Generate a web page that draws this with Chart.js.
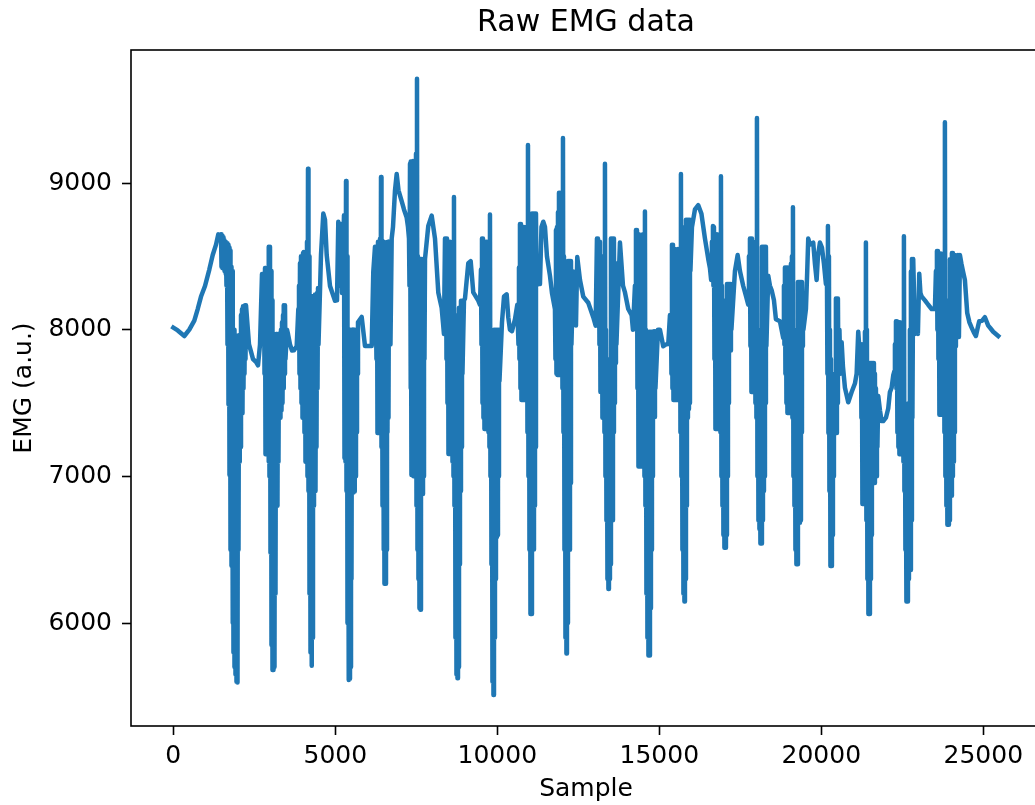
<!DOCTYPE html>
<html><head><meta charset="utf-8">
<script src="https://cdn.jsdelivr.net/npm/chart.js@4.4.1/dist/chart.umd.min.js"></script>
<style>
html,body{margin:0;padding:0;overflow:hidden;background:#fff;width:1035px;height:805px}
#wrap{position:absolute;left:0;top:0;width:1080px;height:805px}
</style>
</head><body><div id="wrap"><canvas id="c" width="1080" height="805"></canvas></div>
<script>
const chartTitle = 'Raw EMG data';
const xAxisTitle = 'Sample';
const yAxisTitle = 'EMG (a.u.)';
const xTickValues = [0, 5000, 10000, 15000, 20000, 25000];
const xTickLabels = ['0', '5000', '10000', '15000', '20000', '25000'];
const yTickValues = [6000, 7000, 8000, 9000];
const yTickLabels = ['6000', '7000', '8000', '9000'];

// sample index of each point (one line per segment)
const sampleIndex = [
0,136,340,494,648,753,855,978,1111,1216,1318,1389,1450,
1472,1487,1503,1518,1534,1549,1565,1580,1596,1611,1626,1641,1657,1672,1688,1703,1719,1734,1750,1765,1781,1796,1812,1827,1842,1857,1873,1888,1904,1919,1935,1950,1966,1981,1997,2012,2028,2043,2058,2073,2089,2104,2120,2135,2151,2166,2182,2197,2213,2228,
2244,2336,2398,2460,2552,2614,2676,2737,
2799,2814,2830,2845,2861,2876,2892,2907,2923,2938,2953,2968,2984,2999,3015,3030,3046,3061,3077,3092,3108,3123,3139,3154,3170,3185,3200,3215,3231,3246,3262,3277,3293,3308,3324,3339,3355,3370,3386,3401,3416,3431,3447,3462,
3509,3540,3601,3663,3725,3808,3858,
3879,3894,3910,3925,3941,3956,3972,3987,4003,4018,4033,4048,4064,4079,4095,4110,4126,4141,4157,4172,4188,4203,4219,4234,4250,4265,4280,4295,4311,4326,4342,4357,4373,4388,4404,4419,4435,4450,4466,4481,
4558,4629,4681,4734,4836,4990,5052,5092,5129,5175,5206,
5268,5283,5299,5314,5330,5345,5361,5376,5392,5407,5422,5437,5453,5468,5484,5499,5515,5530,5546,5561,5577,5592,5607,5622,5638,5653,5669,5684,
5700,5814,5916,6009,6123,6172,6225,
6255,6270,6286,6301,6317,6332,6348,6363,6379,6394,6410,6425,6441,6456,6472,6487,6502,6517,6533,6548,6564,6579,6595,6610,6626,6641,6657,6672,6687,6702,
6740,6780,6842,6894,6950,7048,7119,7203,7243,
7274,7289,7305,7320,7335,7350,7366,7381,7397,7412,7428,7443,7459,7474,7490,7505,7521,7536,7551,7566,7582,7597,7613,7628,7644,7659,7675,7690,7706,7721,7737,7752,
7768,7869,7974,8076,8178,8230,8282,8322,8353,
8385,8400,8416,8431,8446,8461,8477,8492,8508,8523,8539,8554,8570,8585,8601,8616,8632,8647,8662,8677,8693,8708,8724,8739,8755,8770,8786,8801,8817,8832,8847,8862,8878,8893,8909,8924,
8971,9002,9104,9178,9258,9412,9465,
9496,9511,9527,9542,9557,9572,9588,9603,9619,9634,9650,9665,9681,9696,9712,9727,9742,9757,9773,9788,9804,9819,9835,9850,9866,9881,9897,9912,9927,9942,9958,9973,9989,10004,10020,10035,10051,10066,
10144,10206,10289,10338,10390,10452,10545,10616,
10638,10653,10668,10683,10699,10714,10730,10745,10761,10776,10792,10807,10823,10838,10853,10868,10884,10899,10915,10930,10946,10961,10977,10992,11008,11023,11038,11053,11069,11084,11100,11115,11131,11146,11162,11177,11193,11208,
11255,11316,11363,11418,11471,11532,11625,11687,
11779,11794,11810,11825,11841,11856,11872,11887,11903,11918,11934,11949,11964,11979,11995,12010,12026,12041,12057,12072,12088,12103,12118,12133,12149,12164,12180,12195,12211,12226,12242,12257,12273,12288,
12344,12427,12467,12551,12652,12807,12961,13035,
13075,13090,13106,13121,13137,13152,13168,13183,13199,13214,13229,13244,13260,13275,13291,13306,13322,13337,13353,13368,13384,13399,13414,13429,13445,13460,13476,13491,13507,13522,13538,13553,13569,13584,13599,13614,13630,13645,13661,13676,
13785,13831,13878,13940,14041,14146,14186,
14248,14263,14279,14294,14310,14325,14341,14356,14371,14386,14402,14417,14433,14448,14464,14479,14495,14510,14526,14541,14556,14571,14587,14602,14618,14633,14649,14664,14680,14695,14711,14726,14741,14756,14772,14787,14803,14818,14834,14849,14865,14880,
14958,15019,15121,15205,15276,15328,
15359,15374,15390,15405,15421,15436,15452,15467,15482,15497,15513,15528,15544,15559,15575,15590,15606,15621,15637,15652,15667,15682,15698,15713,15729,15744,15760,15775,15791,15806,15822,15837,15852,15867,15883,15898,15914,15929,15945,15960,
16007,16100,16202,16300,16408,16510,16562,16600,
16624,16639,16655,16670,16686,16701,16717,16732,16748,16763,16778,16793,16809,16824,16840,16855,16871,16886,16902,16917,16933,16948,16963,16978,16994,17009,17025,17040,17056,17071,17087,17102,17118,17133,17149,17164,17179,17194,17210,17225,
17334,17417,17488,17590,17674,17745,
17766,17781,17797,17812,17828,17843,17859,17874,17889,17904,17920,17935,17951,17966,17982,17997,18013,18028,18044,18059,18075,18090,18105,18120,18136,18151,18167,18182,18198,18213,18229,18244,18260,18275,18290,18305,
18361,18414,18467,18538,18599,18723,18825,
18846,18861,18877,18892,18908,18923,18939,18954,18970,18985,19001,19016,19031,19046,19062,19077,19093,19108,19124,19139,19155,19170,19186,19201,19216,19231,19247,19262,19278,19293,19309,19324,19340,19355,19371,19386,19402,19417,19432,19447,
19525,19565,19596,19648,19750,19803,19855,19895,19957,20019,20081,20142,
20173,20188,20204,20219,20235,20250,20266,20281,20296,20311,20327,20342,20358,20373,20389,20404,20420,20435,20450,20465,20481,20496,20512,20527,
20559,20590,20627,20667,20729,20831,20936,21037,21090,21139,
21192,21207,21222,21237,21253,21268,21284,21299,21315,21330,21346,21361,21376,21391,21407,21422,21438,21453,21469,21484,21500,21515,21531,21546,21561,21576,21592,21607,21623,21638,21654,21669,21685,21700,21716,21731,
21757,21809,21861,21911,21994,22065,22117,22170,22219,22256,
22272,22287,22303,22318,22333,22348,22364,22379,22395,22410,22426,22441,22457,22472,22488,22503,22519,22534,22549,22564,22580,22595,22611,22626,22642,22657,22673,22688,22704,22719,22734,22749,22765,22780,22796,22811,
22836,22889,22951,22981,23022,23059,23096,23198,23299,23404,23506,
23537,23552,23568,23583,23599,23614,23629,23644,23660,23675,23691,23706,23722,23737,23753,23768,23784,23799,23814,23829,23845,23860,23876,23891,23907,23922,23938,23953,23969,23984,23999,24014,24030,24045,24061,24076,24092,24107,24123,24138,24154,24169,
24216,24247,24278,24324,24370,24431,24503,24571,24639,24710,24771,24833,24873,24957,25049,25151,25219,25305,25460
];

// EMG value of each point (same line layout as sampleIndex)
const emgValue = [
8014,7995,7957,8000,8062,8141,8226,8298,8410,8509,8580,8650,8610,
8650,8430,8640,8420,8630,8420,8610,8400,8600,8380,8600,8300,8590,7900,8580,7490,8560,7010,8540,6500,8430,6390,8400,6000,8200,5800,8000,5700,7900,5650,7700,5600,7950,5595,7960,6500,7960,7100,7950,7200,8100,7450,8140,7430,8160,7600,8100,7700,8166,7800,
8166,7900,7850,7800,7780,7757,7900,8380,
8380,7700,8420,7150,8400,7150,8380,7150,8420,7100,8566,7000,8566,6480,8400,5850,8200,5680,7950,5680,7960,5700,7960,6200,7970,6880,7970,6800,7970,7100,7950,7400,7950,7400,8000,7450,8050,7500,8100,7600,8166,7700,8166,7800,
8000,7970,7900,7858,7860,7887,8141,
8300,7700,8453,7600,8500,7500,8500,7400,8523,7400,8530,7300,8530,7100,8500,7100,8600,7000,9098,6900,8500,6200,7800,5800,7500,5708,7900,5900,8230,6800,8230,6900,8240,6900,8240,7200,8250,7600,8284,7900,
8509,8792,8750,8509,8298,8198,8200,8736,8300,8720,8250,
8780,7125,8700,7100,9014,6900,8500,6000,8000,5612,8000,5620,8000,5700,8000,6300,8000,6900,8000,6890,8000,6897,7990,7000,7980,7300,7971,7700,
8050,8087,7889,7889,7889,8396,8566,
8566,7800,8550,7296,8600,7296,8600,7296,8620,7300,9041,7200,8600,6800,8500,6500,8600,6268,8594,6268,8594,6500,8594,7300,8600,7400,8600,8200,8600,7900,
8622,8700,8950,9062,8950,8877,8820,8764,8700,
8622,8300,9132,7600,9146,7009,9146,7009,9150,7000,9150,7000,9100,7000,9200,6800,9711,6500,8500,6300,8000,6100,7800,6090,8482,6880,8482,6880,8450,7000,8482,7800,
8482,8707,8778,8622,8254,8200,8150,8050,7971,
8622,7971,8622,7800,8622,7500,8594,7153,8600,7153,8600,7153,8550,7153,8550,7100,8600,7000,8905,6800,8000,5900,7800,5650,7500,5623,8100,5700,8150,6400,8150,6900,8198,7200,8198,7700,
8200,8212,8453,8467,8254,8198,8170,
8410,7900,8622,7500,8622,7400,8600,7323,8550,7323,8600,7323,8600,7323,8550,7300,8500,7200,8786,7000,8000,6400,7500,5600,7500,5510,8000,5900,8000,6300,8000,6586,8000,6600,8000,7000,8000,7650,
8050,8226,8241,8085,8000,7990,8071,8170,
8170,7900,8424,7800,8721,7600,8721,7520,8700,7520,8700,7520,8700,7520,8680,7520,8700,7520,8700,7300,9259,7000,8700,6500,8000,6062,8000,6062,8792,6501,8792,6501,8792,6800,8792,7200,8792,8300,
8400,8311,8700,8736,8700,8500,8368,8250,
8141,7800,8680,7700,8700,7691,8800,7691,8933,7691,8933,7691,8900,7691,8900,7600,9307,7300,8500,6500,8000,5900,8000,5793,8460,6000,8468,6955,8468,6500,8468,6955,8468,7900,
8396,8028,8496,8339,8226,8184,8085,8028,
8622,8028,8622,8028,8600,7900,8600,7575,8500,7575,8500,7400,8450,7400,8500,7300,9132,7000,8000,6700,7500,6300,7000,6232,7500,6300,7800,6400,8622,6730,8622,6700,8622,7300,8622,7500,8453,7773,8453,7900,
8594,8450,8300,8254,8141,8099,8000,
8300,8014,8680,8000,8680,7600,8650,7067,8650,7067,8600,7067,8600,7067,8600,7067,8650,7067,8650,7000,8806,6800,8000,6200,7800,5900,7800,5779,7986,5779,7986,6100,7986,6500,7986,7000,7986,7404,7990,7404,7990,7600,
8000,8000,7887,7900,7902,8100,
8100,7700,8580,7600,8580,7520,8550,7520,8550,7520,8500,7520,8500,7520,8550,7520,8550,7520,8550,7300,9062,7000,8000,6500,7800,6200,7800,6147,8700,6300,8749,6800,8749,7400,8749,7460,8749,7500,8749,8400,
8700,8820,8849,8790,8622,8482,8420,8339,
8600,8339,8707,8300,8700,7800,8650,7323,8650,7323,8650,7323,8600,7323,8600,7323,8650,7300,9047,7000,8300,6800,8000,6600,7800,6514,7800,6514,8200,6600,8311,7000,8311,7500,8311,7858,8311,7858,8311,8000,
8400,8509,8400,8298,8230,8170,
8500,8170,8622,7889,8622,7575,8622,7575,8600,7575,8550,7575,8500,7500,8500,7400,9443,7000,8000,6700,7400,6641,7400,6543,7400,6543,8566,6700,8566,6900,8566,7000,8566,7500,8566,7889,
8368,8300,8269,8200,8071,8057,7943,
8300,7900,8424,7700,8424,7500,8424,7432,8424,7432,8424,7432,8400,7432,8450,7432,8500,7400,8835,7000,8000,6800,7500,6500,7500,6401,7500,6401,8325,6684,8325,6684,8325,6700,8325,7300,8325,7889,8200,8000,
8141,8400,8622,8580,8594,8450,8339,8500,8594,8560,8450,8311,
8400,7700,8707,7296,8500,6900,8000,6389,7800,6389,7500,6600,7500,7000,7500,7296,7700,7296,8212,7296,8212,7500,8212,7700,
8000,7700,7915,7750,7604,7505,7575,7633,7700,7986,
7820,7700,7900,7400,7900,6812,7800,6812,7800,6812,7986,6812,8594,6700,8000,6300,7773,6062,7773,6062,7773,6300,7773,6600,7773,6955,7773,6955,7773,6955,7700,7000,7600,7000,7548,7200,
7548,7450,7377,7377,7400,7463,7575,7604,7688,7718,
7900,7718,8057,7600,8057,7300,8050,7200,8050,7151,8050,7151,7900,7151,7900,7151,7900,7100,8637,6900,7500,6500,7000,6147,7000,6147,7000,6300,7500,6362,8000,6362,8396,6700,8482,7400,
8482,7971,8100,7971,8382,8250,8226,8200,8170,8141,8141,
8400,8141,8537,8000,8537,7800,8500,7420,8520,7420,8520,7420,8500,7420,8450,7420,8450,7300,9415,7000,8000,6800,7600,6670,7600,6670,8200,6700,8480,6868,8480,6868,8523,7000,8523,7100,8509,7300,8509,7887,8482,8000,
8509,7950,8509,8450,8400,8339,8114,8050,8014,7980,7957,8020,8057,8060,8085,8028,8010,7986,7957
];

const xRange = [-1306, 26780];
const yRange = [5298, 9907];

const n = Math.min(sampleIndex.length, emgValue.length);
const points = [];
for (let i = 0; i < n; i++) points.push({x: sampleIndex[i], y: emgValue[i]});

const FONT = 'DejaVu Sans';

const framePlugin = {
  id: 'frame',
  afterDatasetsDraw(chart) {
    const {ctx, chartArea: a} = chart;
    ctx.save();
    ctx.strokeStyle = '#000';
    ctx.lineWidth = 1.6;
    ctx.strokeRect(a.left, a.top, a.right - a.left, a.bottom - a.top);
    ctx.restore();
  }
};

new Chart(document.getElementById('c'), {
  type: 'line',
  data: {
    datasets: [{
      data: points,
      borderColor: '#1f77b4',
      borderWidth: 4.5,
      pointRadius: 0,
      pointHoverRadius: 0,
      tension: 0,
      fill: false,
      borderJoinStyle: 'round',
      borderCapStyle: 'square'
    }]
  },
  options: {
    responsive: false,
    animation: false,
    devicePixelRatio: 1,
    events: [],
    layout: {padding: {left: 0, right: 39, top: 0, bottom: 0}, autoPadding: false},
    plugins: {
      legend: {display: false},
      tooltip: {enabled: false},
      title: {
        display: true,
        text: chartTitle,
        fullSize: false,
        color: '#000',
        font: {family: FONT, size: 30, weight: 'normal'},
        padding: {top: 5, bottom: 9}
      }
    },
    scales: {
      x: {
        type: 'linear',
        min: xRange[0],
        max: xRange[1],
        afterBuildTicks: ax => { ax.ticks = xTickValues.map(v => ({value: v})); },
        afterFit: s => { s.height = 79; },
        grid: {drawOnChartArea: false, drawTicks: true, tickLength: 9, tickWidth: 1.6, tickColor: '#000'},
        border: {display: false},
        ticks: {
          color: '#000', font: {family: FONT, size: 25}, padding: 6,
          maxRotation: 0, autoSkip: false,
          callback: (v) => { const i = xTickValues.indexOf(v); return i >= 0 ? xTickLabels[i] : ''; }
        },
        title: {display: true, text: xAxisTitle, color: '#000', font: {family: FONT, size: 25}, padding: {top: 0, bottom: 1}}
      },
      y: {
        type: 'linear',
        min: yRange[0],
        max: yRange[1],
        afterBuildTicks: ax => { ax.ticks = yTickValues.map(v => ({value: v})); },
        afterFit: s => { s.width = 131; },
        grid: {drawOnChartArea: false, drawTicks: true, tickLength: 9, tickWidth: 1.6, tickColor: '#000'},
        border: {display: false},
        ticks: {
          color: '#000', font: {family: FONT, size: 25}, padding: 10, autoSkip: false,
          callback: (v) => { const i = yTickValues.indexOf(v); return i >= 0 ? yTickLabels[i] : ''; }
        },
        title: {display: true, text: yAxisTitle, color: '#000', font: {family: FONT, size: 25}, padding: {top: 9, bottom: 0}}
      }
    }
  },
  plugins: [framePlugin]
});
</script>
</body></html>
